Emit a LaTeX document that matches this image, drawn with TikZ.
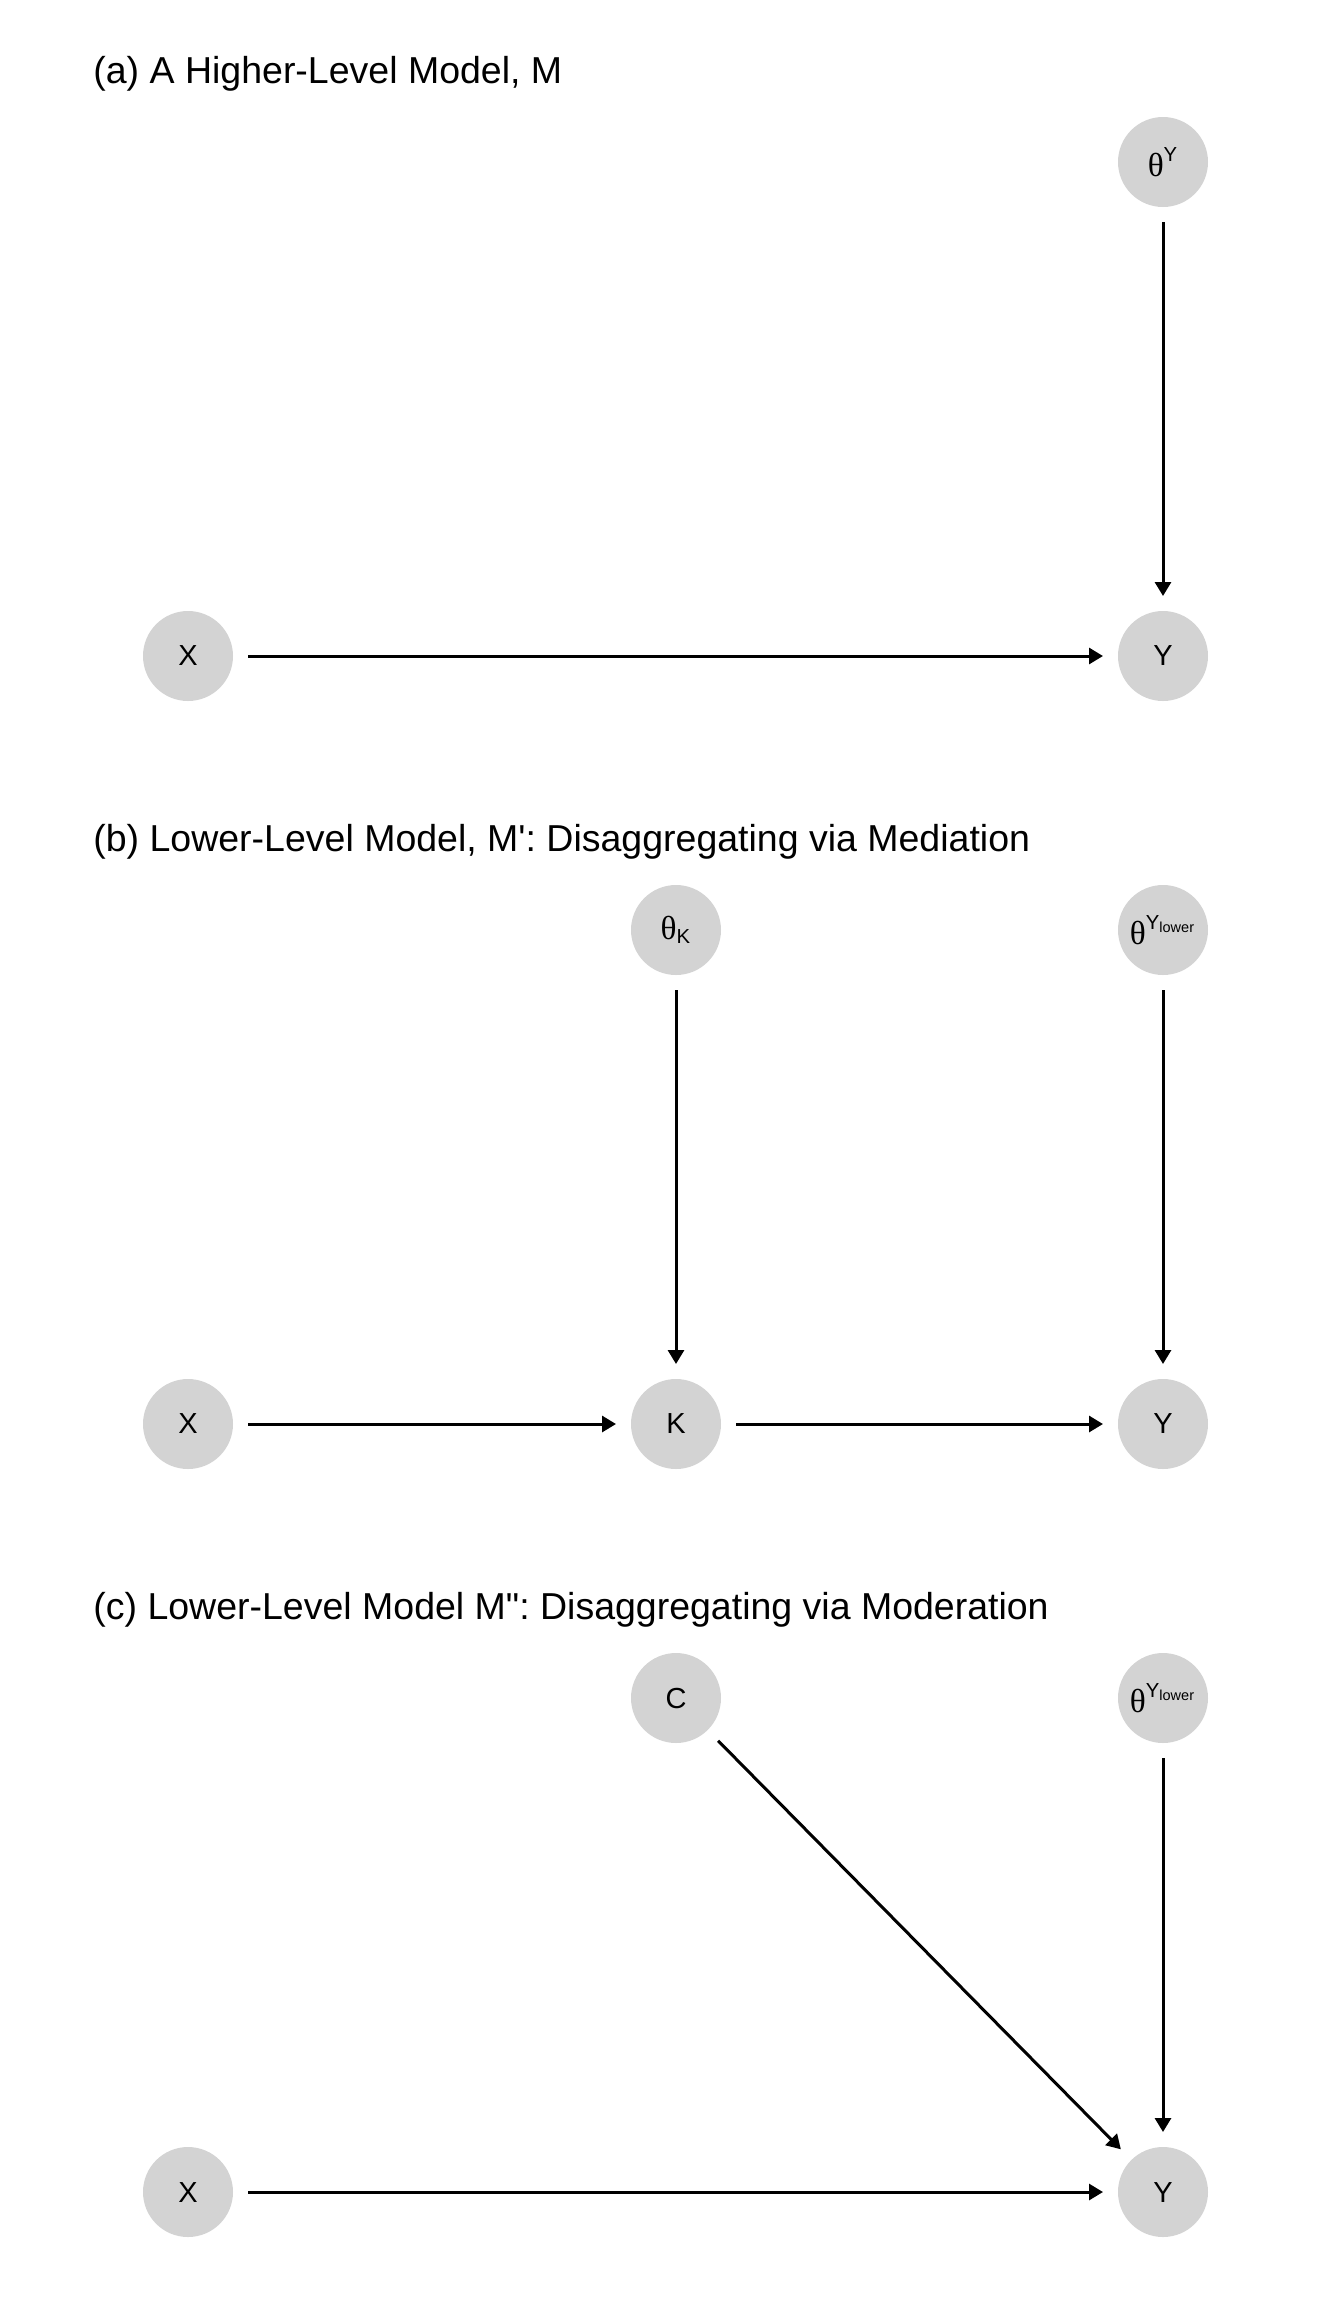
\documentclass[tikz,border=0pt]{standalone}
\usepackage{amsmath}
\usepackage{fontspec}
\setmainfont{Liberation Sans}
\newfontfamily\grk[Scale=1.15]{Liberation Serif}
\usetikzlibrary{arrows.meta}
\definecolor{nodegray}{RGB}{211,211,211}
\tikzset{>={Triangle[length=7pt,width=8pt]}}

\begin{document}
\begin{tikzpicture}[x=0.5pt,y=-0.5pt,
    var/.style={circle, fill=nodegray, minimum size=45pt, inner sep=0pt,
        outer sep=7.5pt, font=\fontsize{14.5}{17}\selectfont},
    edge/.style={->, line width=1.5pt},
    panel/.style={anchor=base west, inner sep=0pt,
        font=\fontsize{18.75}{22}\selectfont}]
    \useasboundingbox (0,0) rectangle (1344,2304);

    % (a)
    \node (titleA) at (93,83) [panel] {(a) A Higher-Level Model, M};
    \node (thYa) at (1163,162) [var] {$\text{\grk θ}^{\text{Y}}$};
    \node (Xa) at (188,656) [var] {X};
    \node (Ya) at (1163,656) [var] {Y};
    \draw[edge] (thYa) -- (Ya);
    \draw[edge] (Xa) -- (Ya);

    % (b)
    \node (titleB) at (93,851) [panel]
        {(b) Lower-Level Model, M\textquotesingle: Disaggregating via Mediation};
    \node (thKb) at (676,930) [var] {$\text{\grk θ}_{\text{K}}$};
    \node (thYb) at (1163,930) [var] {$\text{\grk θ}^{\text{Y}_{\text{lower}}}$};
    \node (Xb) at (188,1424) [var] {X};
    \node (Kb) at (676,1424) [var] {K};
    \node (Yb) at (1163,1424) [var] {Y};
    \draw[edge] (thKb) -- (Kb);
    \draw[edge] (thYb) -- (Yb);
    \draw[edge] (Xb) -- (Kb);
    \draw[edge] (Kb) -- (Yb);

    % (c)
    \node (titleC) at (93,1619) [panel]
        {(c) Lower-Level Model M\textquotedbl: Disaggregating via Moderation};
    \node (Cc) at (676,1698) [var] {C};
    \node (thYc) at (1163,1698) [var] {$\text{\grk θ}^{\text{Y}_{\text{lower}}}$};
    \node (Xc) at (188,2192) [var] {X};
    \node (Yc) at (1163,2192) [var] {Y};
    \draw[edge] (Cc) -- (Yc);
    \draw[edge] (thYc) -- (Yc);
    \draw[edge] (Xc) -- (Yc);
\end{tikzpicture}
\end{document}
